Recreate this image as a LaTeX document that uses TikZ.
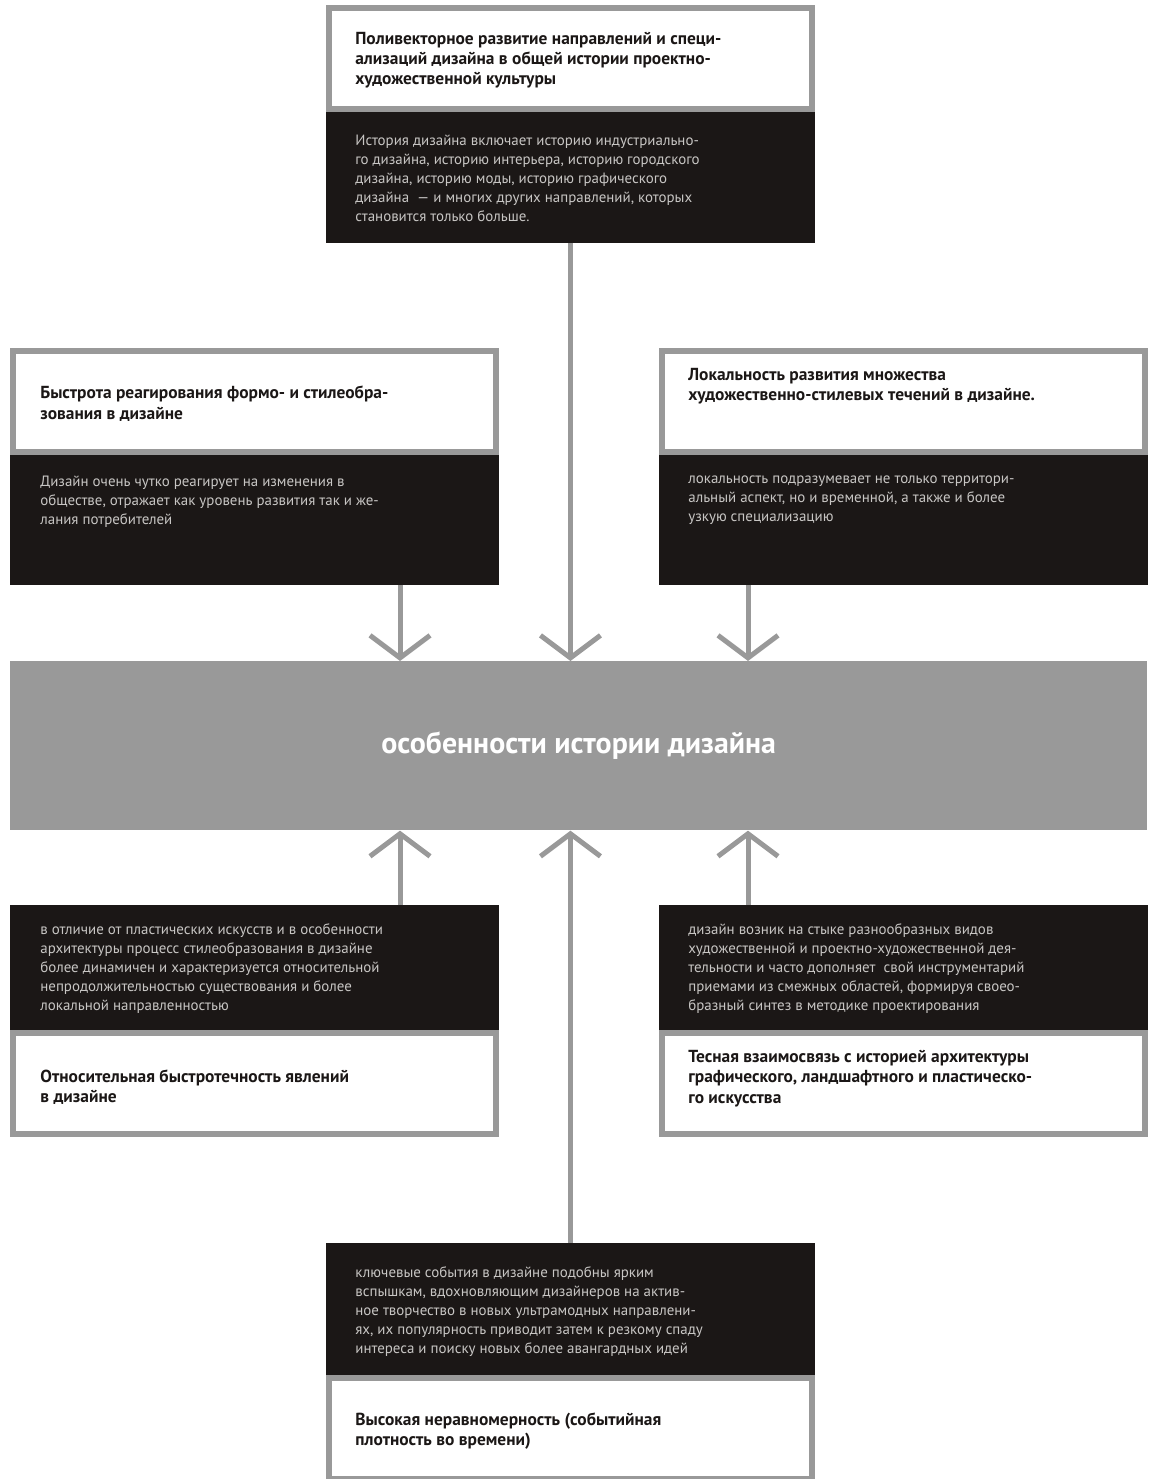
\documentclass[tikz,border=0pt]{standalone}
\usepackage{fontspec}
\setmainfont{PT Sans}
\usepackage{xcolor}
\usetikzlibrary{arrows.meta, positioning, calc}
\definecolor{frame}{HTML}{999999}
\definecolor{ink}{HTML}{1B1716}
\definecolor{pale}{HTML}{C8C6C4}
\tikzset{
	headbox/.style={draw=frame, line width=0.12cm, fill=white, anchor=north west, minimum width=9.66cm, minimum height=2.02cm, inner sep=0pt, outer sep=0pt},
	descbox/.style={fill=ink, anchor=north west, minimum width=9.78cm, inner sep=0pt, outer sep=0pt},
	headtext/.style={anchor=north west, inner sep=0pt, align=left, text=ink, font=\fontsize{9.9}{11.5}\selectfont\bfseries},
	desctext/.style={anchor=north west, inner sep=0pt, align=left, text=pale, font=\fontsize{8.5}{10.8}\selectfont},
	link/.style={draw=frame, line width=0.1cm, -{Straight Barb[length=0.45cm, width=1.2cm]}},
}

\begin{document}
\begin{tikzpicture}[x=0.02cm, y=-0.02cm]
		\useasboundingbox (0,0) rectangle (1152,1479);
		
		\coordinate (lx) at (400,0);
		\coordinate (rx) at (748,0);
		
		\node[fill=frame, anchor=north west, minimum width=22.74cm, minimum height=3.38cm, inner sep=0pt, text=white, font=\fontsize{17}{20}\selectfont\bfseries] (core) at (10,661) {особенности истории дизайна};
		
		% top card
		\node[headbox] (thead) at (329,8) {};
		\node[descbox, minimum height=2.62cm] (tdesc) at (326,112) {};
		\node[headtext] (ttitle) at (355,32) {Поливекторное развитие направлений и специ-\\ализаций дизайна в общей истории проектно-\\художественной культуры};
		\node[desctext] (tnote) at (355,135) {История дизайна включает историю индустриально-\\го дизайна, историю интерьера, историю городского\\дизайна, историю моды, историю графического\\дизайна~ — и многих других направлений, которых\\становится только больше.};
		
		% left and right cards
		\node[headbox] (lhead) at (13,351) {};
		\node[descbox, minimum height=2.6cm] (ldesc) at (10,455) {};
		\node[headtext] (ltitle) at (40,386) {Быстрота реагирования формо- и стилеобра-\\зования в дизайне};
		\node[desctext] (lnote) at (40,476) {Дизайн очень чутко реагирует на изменения в\\обществе, отражает как уровень развития так и же-\\лания потребителей};
		
		\node[headbox] (rhead) at (662,351) {};
		\node[descbox, minimum height=2.6cm] (rdesc) at (659,455) {};
		\node[headtext] (rtitle) at (688,368) {Локальность развития множества\\художественно-стилевых течений в дизайне.};
		\node[desctext] (rnote) at (688,476) {локальность подразумевает не только территори-\\альный аспект, но и временной, а также и более\\узкую специализацию};
		
		% lower cards
		\node[descbox, minimum height=2.5cm] (bldesc) at (10,905) {};
		\node[headbox] (blhead) at (13,1033) {};
		\node[desctext] (blnote) at (40,923) {в отличие от пластических искусств и в особенности\\архитектуры процесс стилеобразования в дизайне\\более динамичен и характеризуется относительной\\непродолжительностью существования и более\\локальной направленностью};
		\node[headtext] (bltitle) at (40,1069) {Относительная быстротечность явлений\\в дизайне};
		
		\node[descbox, minimum height=2.5cm] (brdesc) at (659,905) {};
		\node[headbox] (brhead) at (662,1033) {};
		\node[desctext] (brnote) at (688,923) {дизайн возник на стыке разнообразных видов\\художественной и проектно-художественной дея-\\тельности и часто дополняет~ свой инструментарий\\приемами из смежных областей, формируя своео-\\бразный синтез в методике проектирования};
		\node[headtext] (brtitle) at (688,1050) {Тесная взаимосвязь с историей архитектуры\\графического, ландшафтного и пластическо-\\го искусства};
		
		\node[descbox, minimum height=2.64cm] (bdesc) at (326,1243) {};
		\node[headbox] (bhead) at (329,1378) {};
		\node[desctext] (bnote) at (355,1266) {ключевые события в дизайне подобны ярким\\вспышкам, вдохновляющим дизайнеров на актив-\\ное творчество в новых ультрамодных направлени-\\ях, их популярность приводит затем к резкому спаду\\интереса и поиску новых более авангардных идей};
		\node[headtext] (btitle) at (355,1412) {Высокая неравномерность (событийная\\плотность во времени)};
		
		\draw[link] (tdesc.south) -- (tdesc.south |- core.north);
		\draw[link] (ldesc.south -| lx) -- (core.north -| lx);
		\draw[link] (rdesc.south -| rx) -- (core.north -| rx);
		\draw[link] (bdesc.north) -- (bdesc.north |- core.south);
		\draw[link] (bldesc.north -| lx) -- (core.south -| lx);
		\draw[link] (brdesc.north -| rx) -- (core.south -| rx);
		
	\end{tikzpicture}
\end{document}
